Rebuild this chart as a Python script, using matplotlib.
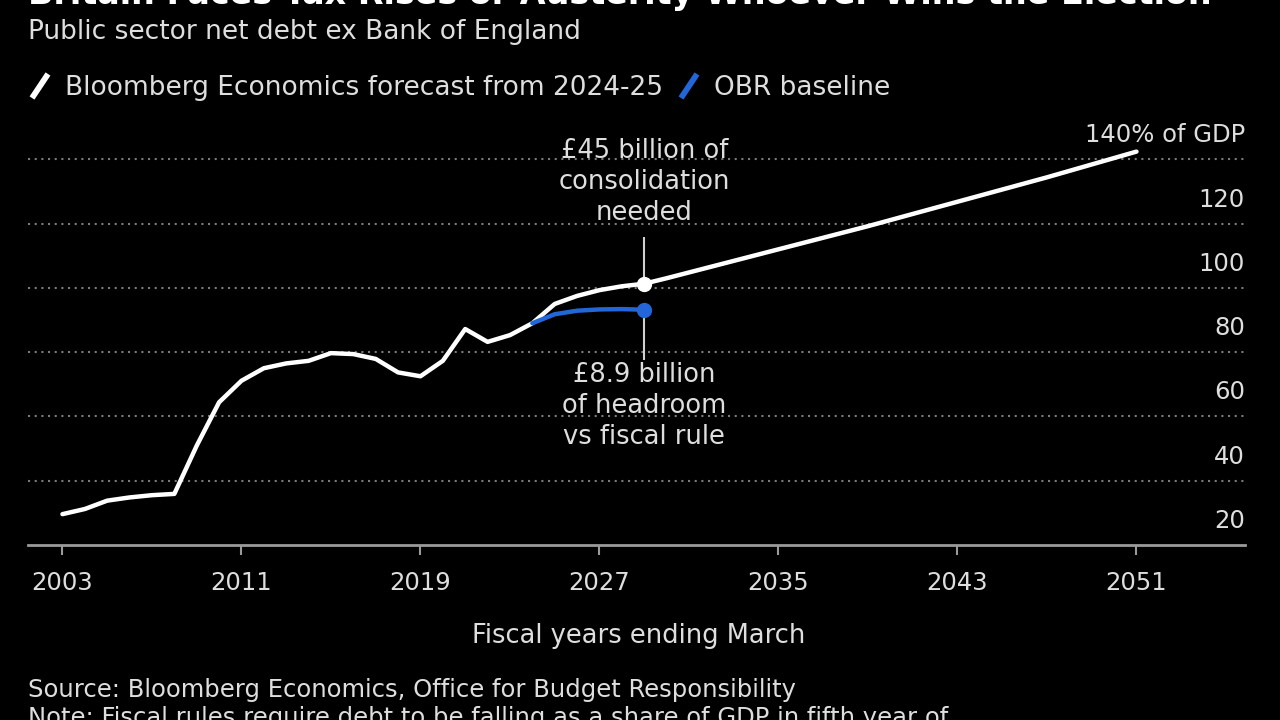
import matplotlib
matplotlib.use("Agg")
import matplotlib.pyplot as plt
from matplotlib.lines import Line2D
from matplotlib.markers import MarkerStyle
from matplotlib.transforms import Affine2D, blended_transform_factory

# Bloomberg Economics forecast (white), % of GDP, fiscal years ending March
years = list(range(2003, 2052))
debt = [29.6, 31.2, 33.8, 34.8, 35.5, 35.9, 50.9, 64.4, 71.1, 75.0,
        76.5, 77.3, 79.7, 79.4, 77.9, 73.7, 72.5, 77.3, 87.2, 83.2,
        85.3, 89.0, 95.0, 97.5, 99.3, 100.5, 101.3, 103.0, 104.8, 106.6,
        108.4, 110.2, 112.0, 113.8, 115.6, 117.4, 119.2, 121.1, 123.0, 124.9,
        126.8, 128.7, 130.6, 132.5, 134.4, 136.4, 138.4, 140.4, 142.4]

# OBR baseline (blue)
obr_years = [2024, 2025, 2026, 2027, 2028, 2029]
obr_debt = [89.0, 91.8, 92.9, 93.3, 93.4, 93.2]

xticks = [2003, 2011, 2019, 2027, 2035, 2043, 2051]
ygrid = [40, 60, 80, 100, 120, 140]
ylabels = ["20", "40", "60", "80", "100", "120", "140% of GDP"]
yvals = [20, 40, 60, 80, 100, 120, 140]

mark_year = 2029
bbg_mark = debt[years.index(mark_year)]
obr_mark = obr_debt[obr_years.index(mark_year)]

WHITE = "#ffffff"
TEXT = "#dedede"
GREY = "#9a9a9a"
BLUE = "#2266d8"

plt.rcParams["font.family"] = ["DejaVu Sans"]

fig = plt.figure(figsize=(12.8, 7.2), dpi=100, facecolor="black")
ax = fig.add_axes([28 / 1280, 175 / 720, 1217 / 1280, 415 / 720])
ax.set_facecolor("black")
ax.set_xlim(2001.46, 2055.85)
ax.set_ylim(20, 20 + 415 / 3.214)

for v in ygrid:
    ax.axhline(v, color="#7a7a7a", lw=1.5, linestyle=(0, (1, 2.2)), zorder=1)

ax.plot(years, debt, color=WHITE, lw=3.2, solid_capstyle="round",
        solid_joinstyle="round", zorder=3)
ax.plot(obr_years, obr_debt, color=BLUE, lw=3.2, solid_capstyle="round", zorder=4)

# annotation stems and markers
ax.vlines(mark_year, bbg_mark, 115.8, color="#cfcfcf", lw=1.5, zorder=2)
ax.vlines(mark_year, 77.5, obr_mark, color="#cfcfcf", lw=1.5, zorder=2)
ax.plot(mark_year, bbg_mark, "o", color=WHITE, ms=10, zorder=5)
ax.plot(mark_year, obr_mark, "o", color=BLUE, ms=10, zorder=5)

ax.text(mark_year, 119.3, "£45 billion of\nconsolidation\nneeded", color=TEXT,
        fontsize=18.5, ha="center", va="bottom", linespacing=1.25)
ax.text(mark_year, 77.0, "£8.9 billion\nof headroom\nvs fiscal rule", color=TEXT,
        fontsize=18.5, ha="center", va="top", linespacing=1.25)

# y labels sitting above gridlines on the right
trans = blended_transform_factory(ax.transAxes, ax.transData)
for v, lab in zip(yvals, ylabels):
    ax.text(1.0, v + 5.3, lab, transform=trans, ha="right", va="baseline",
            color=TEXT, fontsize=17.5)

for s in ["top", "left", "right"]:
    ax.spines[s].set_visible(False)
ax.spines["bottom"].set_color(GREY)
ax.spines["bottom"].set_linewidth(2)
ax.set_yticks([])
ax.set_xticks(xticks)
ax.set_xticklabels([str(x) for x in xticks])
ax.tick_params(axis="x", direction="out", length=7, width=1.5, color=GREY,
               labelcolor=TEXT, labelsize=17.5, pad=12)

# legend with slanted line handles
slash = MarkerStyle("|", transform=Affine2D().rotate_deg(-35))
handles = [
    Line2D([], [], color=WHITE, marker=slash, linestyle="None", markersize=21,
           markeredgewidth=4.2),
    Line2D([], [], color=BLUE, marker=slash, linestyle="None", markersize=21,
           markeredgewidth=4.2),
]
fig.legend(handles, ["Bloomberg Economics forecast from 2024-25", "OBR baseline"],
           loc="center left", bbox_to_anchor=(16 / 1280, 1 - 88 / 720), ncol=2,
           frameon=False, fontsize=19, labelcolor=TEXT, handlelength=1.0,
           handletextpad=0.45, columnspacing=0.5, borderaxespad=0)

fig.text(28 / 1280, 1 - 4 / 720,
         "Britain Faces Tax Rises or Austerity Whoever Wins the Election",
         color=WHITE, fontsize=24, fontweight="bold", va="baseline", ha="left")
fig.text(28 / 1280, 1 - 32 / 720, "Public sector net debt ex Bank of England",
         color=TEXT, fontsize=19, va="center", ha="left")
fig.text(639 / 1280, 1 - 636 / 720, "Fiscal years ending March",
         color=TEXT, fontsize=18.5, va="center", ha="center")
fig.text(28 / 1280, 1 - 690 / 720,
         "Source: Bloomberg Economics, Office for Budget Responsibility",
         color=TEXT, fontsize=17.5, va="center", ha="left")
fig.text(28 / 1280, 1 - 706 / 720,
         "Note: Fiscal rules require debt to be falling as a share of GDP in fifth year of",
         color=TEXT, fontsize=17.5, va="top", ha="left")

fig.savefig("out.png", dpi=100, facecolor="black")
